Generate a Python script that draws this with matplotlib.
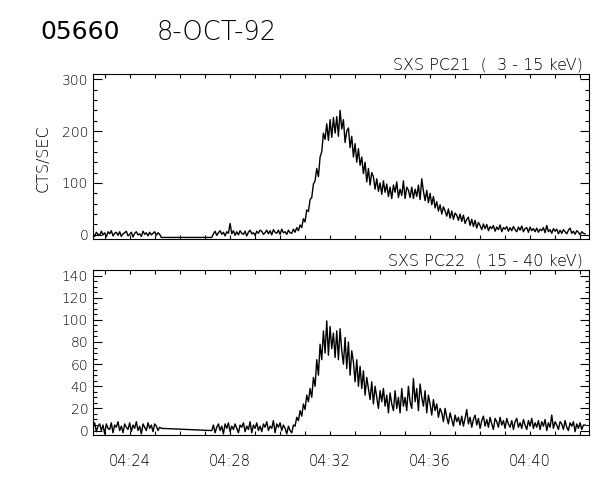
import numpy as np
import matplotlib
matplotlib.use("Agg")
import matplotlib.pyplot as plt
from matplotlib.ticker import FixedLocator, MultipleLocator
import matplotlib.transforms as mtransforms

# ---------------- data (minutes after 04:00, 4 s cadence) ----------------
seg1_start = 22.52
seg2_start = 27.27
step = 1.0 / 15.0

pc21_seg1 = [3, -3, 5, 1, -1, 7, 0, 4, -4, 6, 2, 8, -2, 3, 5, -1, 6, -3, 2, 4,
             7, -2, 1, 5, -4, 3, 6, 0, 2, -3, 7, 1, 4, -2, 5, 0, 3, 6, -1, 4, 1, -5]
pc21_seg2 = [
    -5, 2, 7, -1, 4, 8, 1, 5, -2, 6, 3, 22, 2, 8, -1,
    6, 0, 8, 3, 1, 7, -2, 5, 9, 2, 4, -1, 7, 3, 9,
    7, 1, 4, 9, 2, 8, 0, 10, 5, 3, 9, 1, 11, 4, 6,
    1, 9, 4, 3, 11, 5, 14, 8, 19, 14, 31, 25, 48, 45, 68,
    72, 98, 104, 128, 112, 150, 160, 196, 184, 214, 182, 222, 188, 226, 196,
    228, 190, 240, 204, 222, 178, 200, 206, 168, 190, 150, 176, 140, 166, 134,
    150, 118, 140, 102, 128, 96, 120, 112, 88, 108, 84, 100, 78, 104, 82,
    98, 74, 92, 70, 96, 82, 102, 72, 88, 76, 104, 70, 92, 86, 72,
    92, 70, 88, 74, 96, 68, 108, 84, 66, 86, 62, 80, 58, 74, 52,
    64, 46, 58, 40, 54, 46, 36, 50, 32, 46, 30, 42, 38, 28, 40,
    26, 38, 22, 30, 34, 18, 30, 16, 28, 13, 24, 18, 10, 21, 12,
    20, 8, 16, 12, 18, 7, 15, 10, 19, 6, 14, 11, 16, 7, 14,
    8, 16, 10, 6, 15, 9, 17, 6, 12, 14, 5, 15, 8, 12, 6,
    13, 5, 11, 8, 14, 4, 18, 6, 10, 3, 12, 7, 11, 2, 9,
    3, 10, 6, 2, 9, 13, 3, 7, 1, 8, 5, 0, 6, 3, 2,
]

pc22_seg1 = [2, 7, -1, 4, 6, 0, 5, -3, 6, 2, 1, 7, -2, 5, 3, 8, 0, 4, -2, 6,
             3, 1, 7, -1, 5, 2, 8, 0, 4, -3, 6, 3, 0, 7, 2, 5, -1, 6, 4, 0, 3, 2]
pc22_seg2 = [
    0, 5, -2, 3, 6, 0, 4, -3, 6, 2, 7, -1, 4, 1, 6,
    2, -2, 5, 3, 7, -1, 4, 1, 8, -2, 5, 2, 7, 0, 4,
    -1, 6, 3, 8, 0, 4, 2, 9, -2, 6, 3, 7, 0, 5, 2,
    -3, 4, 0, -2, 5, 4, 12, 9, 18, 13, 24, 19, 32, 26, 38,
    30, 48, 40, 64, 50, 78, 64, 90, 70, 99, 68, 94, 74, 88, 66,
    90, 64, 92, 72, 60, 84, 56, 80, 50, 72, 62, 44, 64, 40, 58,
    38, 54, 32, 48, 38, 28, 44, 24, 40, 30, 20, 36, 26, 38, 22,
    32, 16, 34, 24, 18, 36, 20, 30, 16, 38, 22, 30, 18, 40, 26,
    20, 47, 26, 38, 18, 42, 30, 22, 36, 16, 32, 24, 14, 28, 18,
    24, 12, 20, 16, 8, 20, 12, 6, 16, 10, 4, 14, 8, 12, 5,
    13, 4, 11, 19, 6, 12, 3, 10, 14, 5, 11, 2, 9, 13, 4,
    10, 3, 12, 6, 1, 11, 8, 3, 12, 5, 9, 2, 11, 6, 3,
    9, 1, 8, 11, 3, 7, 2, 10, 5, 1, 9, 4, 11, 2, 7,
    3, 9, 1, 8, 4, 10, 0, 7, 3, 14, 2, 8, 5, 1, 8,
    6, 1, 9, 3, 0, 7, 4, 8, -1, 6, 2, 7, 1, 5, 5,
]

xtick_pos = [24, 28, 32, 36, 40]
xtick_labels = ["04:24", "04:28", "04:32", "04:36", "04:40"]
top_yticks = [0, 100, 200, 300]
bot_yticks = [0, 20, 40, 60, 80, 100, 120, 140]

title_id = "05660"
title_date = "8-OCT-92"
top_title = "SXS PC21  (  3 - 15 keV)"
bot_title = "SXS PC22  ( 15 - 40 keV)"
ylabel = "CTS/SEC"

# ---------------- build series ----------------
def series(seg1, seg2):
    t1 = seg1_start + step * np.arange(len(seg1))
    t2 = seg2_start + step * np.arange(len(seg2))
    return np.concatenate([t1, t2]), np.concatenate([seg1, seg2]).astype(float)

t21, y21 = series(pc21_seg1, pc21_seg2)
t22, y22 = series(pc22_seg1, pc22_seg2)

# ---------------- figure ----------------
plt.rcParams["font.family"] = ["DejaVu Sans"]
fig = plt.figure(figsize=(6, 4.8), dpi=100)
W, H = 600.0, 480.0
L, R = 93, 589
ax1 = fig.add_axes([L / W, (H - 239) / H, (R - L) / W, (239 - 74) / H])
ax2 = fig.add_axes([L / W, (H - 435) / H, (R - L) / W, (435 - 270) / H])

xlim = (22.52, 42.36)
for ax, t, y, ylim, yt, ymin, ttl in [
    (ax1, t21, y21, (-8, 310), top_yticks, 20, top_title),
    (ax2, t22, y22, (-4, 145), bot_yticks, 5, bot_title),
]:
    ax.plot(t, y, color="black", lw=1.0)
    ax.set_xlim(*xlim)
    ax.set_ylim(*ylim)
    ax.xaxis.set_major_locator(FixedLocator(xtick_pos))
    ax.xaxis.set_minor_locator(MultipleLocator(1))
    ax.set_yticks(yt)
    ax.yaxis.set_minor_locator(MultipleLocator(ymin))
    ax.tick_params(axis="both", which="both", direction="in", top=True, right=True,
                   width=0.8, labelsize=10)
    ax.tick_params(axis="y", which="major", length=6.5, pad=3.5)
    ax.tick_params(axis="y", which="minor", length=3.2)
    ax.tick_params(axis="x", which="both", length=3.0)
    for s in ax.spines.values():
        s.set_linewidth(0.8)
    off = mtransforms.offset_copy(ax.transAxes, fig=fig, x=-6, y=1.5, units="dots")
    ax.text(1.0, 1.0, ttl, transform=off, ha="right", va="bottom", fontsize=11.5,
            fontweight="light")
    for lab in ax.get_yticklabels():
        lab.set_fontweight("light")

ax1.set_xticklabels([])
ax2.set_xticklabels(xtick_labels, fontsize=10.5, fontweight="light")
ax2.tick_params(axis="x", which="major", pad=14)

fig.text(43 / W, 1 - 158 / H, ylabel, rotation=90, ha="center", va="center",
         fontsize=11.5, fontweight="light")
fig.text(40 / W, 1 - 32 / H, title_id, ha="left", va="center", fontsize=18)
fig.text(157 / W, 1 - 32 / H, title_date, ha="left", va="center", fontsize=18.5,
         fontweight="light")

fig.savefig("out.png", dpi=100)
